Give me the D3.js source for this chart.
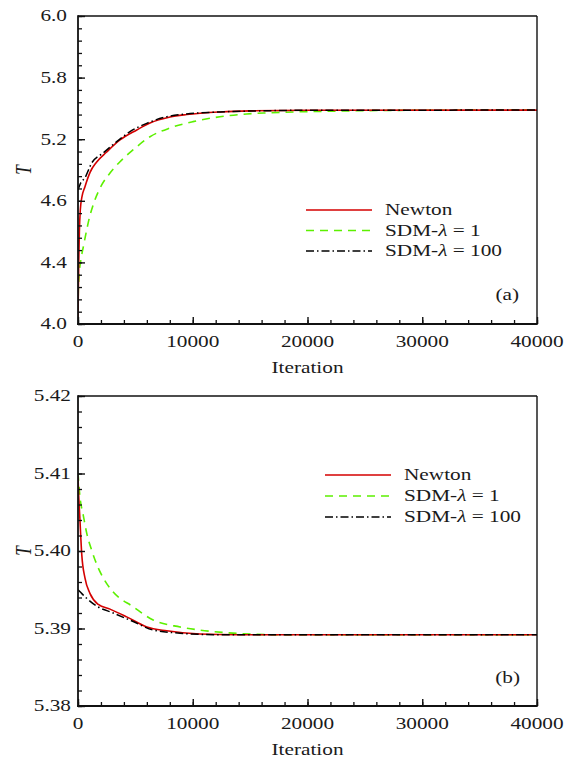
<!DOCTYPE html>
<html>
<head>
<meta charset="utf-8">
<script src="https://cdn.jsdelivr.net/npm/d3@7"></script>
<style>
  body { margin: 0; background: #fff; }
  text { font-family: "Liberation Serif", "Times New Roman", serif; fill: #1a1a1a; }
</style>
</head>
<body>
<svg id="chart" width="570" height="760"></svg>
<script>
// ---- data ----
const iterationTicks = [0, 10000, 20000, 30000, 40000];
const iterationMinorStep = 2000;
const iterationDomain = [0, 40000];

const panelA_yDomain = [4.0, 6.0];
const panelA_yTicks = [4.0, 4.4, 4.8, 5.2, 5.6, 6.0];
const panelA_yTickLabels = ["4.0", "4.4", "4.6", "5.2", "5.8", "6.0"];
const panelA_yMinorStep = 0.08;

const panelB_yDomain = [5.38, 5.42];
const panelB_yTicks = [5.38, 5.39, 5.40, 5.41, 5.42];
const panelB_yTickLabels = ["5.38", "5.39", "5.40", "5.41", "5.42"];
const panelB_yMinorStep = 0.002;

const seriesKeys = ["newton", "sdm1", "sdm100"];

// panel (a): [iteration, T]
const newtonA = [[0,4.0],[30,4.22],[70,4.42],[120,4.6],[200,4.74],[330,4.82],[600,4.89],[1050,4.985],
  [1630,5.052],[2500,5.117],[3660,5.195],[5120,5.26],[6270,5.305],[8020,5.344],[9470,5.36],
  [12400,5.377],[15000,5.384],[20000,5.388],[40000,5.389]];
const sdm1A = [[0,4.0],[25,4.2],[90,4.31],[260,4.42],[460,4.5],[700,4.59],[985,4.688],[1330,4.775],
  [2065,4.903],[2790,4.98],[3660,5.054],[4790,5.13],[6275,5.216],[8020,5.273],[10020,5.314],
  [12375,5.346],[14700,5.364],[16470,5.371],[19350,5.378],[22220,5.382],[26000,5.386],[30000,5.388],[40000,5.389]];
const sdm100A = [[0,4.87],[200,4.91],[610,4.95],[1190,5.045],[2180,5.11],[3370,5.184],[4530,5.249],
  [5990,5.303],[7730,5.346],[9470,5.364],[12400,5.377],[15900,5.384],[20000,5.388],[40000,5.389]];

// panel (b): [iteration, T]
const newtonB = [[0,5.4096],[30,5.4083],[170,5.404],[330,5.3995],[610,5.3965],[1050,5.3945],[1770,5.3931],
  [2790,5.3925],[4240,5.3915],[6000,5.3902],[7730,5.3897],[10600,5.3893],[14000,5.3892],[40000,5.3892]];
const sdm1B = [[0,5.4101],[170,5.407],[460,5.4046],[760,5.4023],[1190,5.4001],[1770,5.3978],[2290,5.3963],
  [3070,5.3947],[4810,5.3928],[6550,5.3911],[8890,5.3902],[10600,5.3898],[13500,5.3894],[17000,5.3892],[40000,5.3892]];
const sdm100B = [[0,5.3950],[200,5.3947],[750,5.3939],[1620,5.3929],[3070,5.3920],[4810,5.3909],
  [6550,5.3898],[8890,5.3894],[12000,5.3892],[40000,5.3892]];

// ---- styles ----
const styles = {
  newton: { color: "#d40000", dash: null, width: 1.6, label: ["Newton"] },
  sdm1:   { color: "#5cf000", dash: "8,6", width: 1.6, label: ["SDM-", "λ", " = 1"] },
  sdm100: { color: "#000000", dash: "8,3,1.5,3", width: 1.5, label: ["SDM-", "λ", " = 100"] }
};
const SX = 1.33;       // horizontal glyph stretch
const FS = 16;         // font size

const svg = d3.select("#chart");

function stext(g, x, y, anchor, size) {
  return g.append("text")
    .attr("transform", `translate(${x},${y}) scale(${SX},1)`)
    .attr("text-anchor", anchor)
    .style("font-size", size + "px");
}

function drawPanel(cfg) {
  const { left, right, top, bottom } = cfg.box;
  const x = d3.scaleLinear().domain(iterationDomain).range([left, right]);
  const y = d3.scaleLinear().domain(cfg.yDomain).range([bottom, top]);
  const g = svg.append("g");

  const clipId = "clip-" + cfg.id;
  svg.append("clipPath").attr("id", clipId)
    .append("rect").attr("x", left).attr("y", top).attr("width", right - left).attr("height", bottom - top);

  // series
  const line = d3.line().x(d => x(d[0])).y(d => y(d[1])).curve(d3.curveMonotoneX);
  const order = ["sdm1", "newton", "sdm100"];
  order.forEach(k => {
    const s = styles[k];
    g.append("path")
      .attr("clip-path", `url(#${clipId})`)
      .attr("d", line(cfg.series[k]))
      .attr("fill", "none")
      .attr("stroke", s.color)
      .attr("stroke-width", s.width)
      .attr("stroke-dasharray", s.dash);
  });

  // minor ticks
  const yMinor = d3.range(cfg.yDomain[0], cfg.yDomain[1] + 1e-9, cfg.yMinorStep);
  const xMinor = d3.range(iterationDomain[0], iterationDomain[1] + 1, iterationMinorStep);
  g.append("g").attr("transform", `translate(${left},0)`)
    .call(d3.axisLeft(y).tickValues(yMinor).tickSize(-4).tickFormat(""))
    .call(a => a.select(".domain").remove())
    .selectAll("line").attr("stroke", "#111").attr("stroke-width", 1.3);
  g.append("g").attr("transform", `translate(0,${bottom})`)
    .call(d3.axisBottom(x).tickValues(xMinor).tickSize(-4).tickFormat(""))
    .call(a => a.select(".domain").remove())
    .selectAll("line").attr("stroke", "#111").attr("stroke-width", 1.3);
  // major ticks
  g.append("g").attr("transform", `translate(${left},0)`)
    .call(d3.axisLeft(y).tickValues(cfg.yTicks).tickSize(-7).tickFormat(""))
    .call(a => a.select(".domain").remove())
    .selectAll("line").attr("stroke", "#111").attr("stroke-width", 1.4);
  g.append("g").attr("transform", `translate(0,${bottom})`)
    .call(d3.axisBottom(x).tickValues(iterationTicks).tickSize(-7).tickFormat(""))
    .call(a => a.select(".domain").remove())
    .selectAll("line").attr("stroke", "#111").attr("stroke-width", 1.4);

  // frame
  g.append("line").attr("x1", left).attr("x2", right).attr("y1", top).attr("y2", top)
    .attr("stroke", "#111").attr("stroke-width", 1.4);
  g.append("line").attr("x1", right).attr("x2", right).attr("y1", top).attr("y2", bottom)
    .attr("stroke", "#111").attr("stroke-width", 1.4);
  g.append("line").attr("x1", left).attr("x2", left).attr("y1", top - 0.7).attr("y2", bottom + 0.9)
    .attr("stroke", "#111").attr("stroke-width", 1.8);
  g.append("line").attr("x1", left - 0.9).attr("x2", right + 0.7).attr("y1", bottom).attr("y2", bottom)
    .attr("stroke", "#111").attr("stroke-width", 1.8);

  // tick labels
  cfg.yTicks.forEach((v, i) => {
    stext(g, left - cfg.yLabelGap, y(v) + 5.3, "end", FS).text(cfg.yTickLabels[i]);
  });
  iterationTicks.forEach(v => {
    stext(g, x(v), bottom + 23, "middle", FS).text(d3.format("d")(v));
  });

  // axis titles
  stext(g, (left + right) / 2, bottom + 48.5, "middle", FS).text("Iteration");
  g.append("text")
    .attr("transform", `translate(31,${(top + bottom) / 2}) scale(${SX},1) rotate(-90)`)
    .attr("text-anchor", "middle")
    .style("font-size", "17px").style("font-style", "italic")
    .text("T");

  // legend
  const L = cfg.legend;
  seriesKeys.forEach((k, i) => {
    const s = styles[k];
    const ly = L.y + i * L.dy;
    g.append("line").attr("x1", L.x).attr("x2", L.x + 66).attr("y1", ly).attr("y2", ly)
      .attr("stroke", s.color).attr("stroke-width", s.width).attr("stroke-dasharray", s.dash);
    const t = stext(g, L.x + 79, ly + 5, "start", FS);
    s.label.forEach((part, j) => {
      const ts = t.append("tspan").text(part);
      if (part === "λ") ts.style("font-style", "italic");
    });
  });

  // panel tag
  stext(g, cfg.tag.x, cfg.tag.y, "end", FS).text(cfg.tag.text);
}

drawPanel({
  id: "a",
  box: { left: 78, right: 537, top: 16, bottom: 324 },
  yDomain: panelA_yDomain, yTicks: panelA_yTicks, yTickLabels: panelA_yTickLabels,
  yMinorStep: panelA_yMinorStep, yLabelGap: 11,
  series: { newton: newtonA, sdm1: sdm1A, sdm100: sdm100A },
  legend: { x: 306, y: 210, dy: 20.5 },
  tag: { x: 519, y: 300, text: "(a)" }
});

drawPanel({
  id: "b",
  box: { left: 78, right: 537, top: 396, bottom: 706 },
  yDomain: panelB_yDomain, yTicks: panelB_yTicks, yTickLabels: panelB_yTickLabels,
  yMinorStep: panelB_yMinorStep, yLabelGap: 7,
  series: { newton: newtonB, sdm1: sdm1B, sdm100: sdm100B },
  legend: { x: 325, y: 475, dy: 21 },
  tag: { x: 520, y: 683, text: "(b)" }
});
</script>
</body>
</html>
